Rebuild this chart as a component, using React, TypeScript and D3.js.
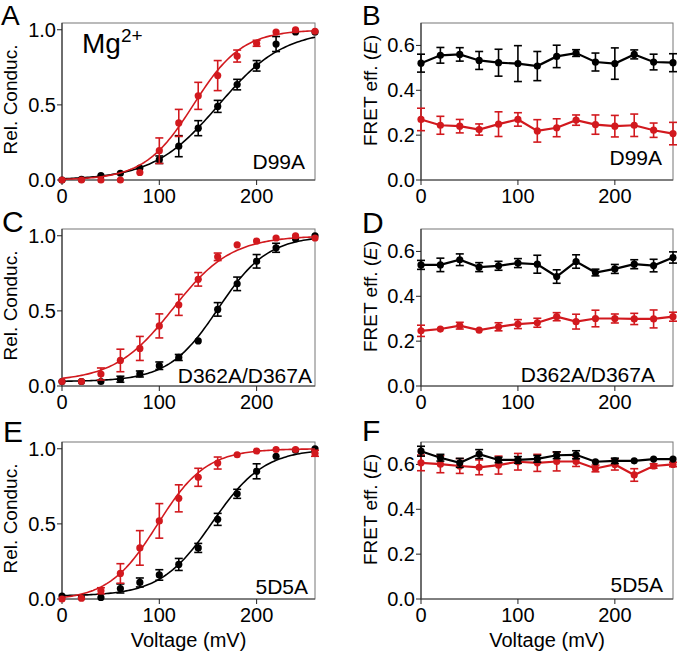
import React, { useRef, useEffect } from "react";
import * as d3 from "d3";

// voltages (mV) shared by every panel
const voltages = [0, 20, 40, 60, 80, 100, 120, 140, 160, 180, 200, 220, 240, 260];

// --- Rel. conductance ---
const condD99ABlack = [0.0, 0.005, 0.03, 0.045, 0.08, 0.135, 0.225, 0.345, 0.49, 0.635, 0.76, 0.905, 0.985, 0.985];
const condD99ABlackErr = [0, 0, 0, 0, 0, 0.025, 0.07, 0.05, 0.04, 0.035, 0.035, 0.05, 0, 0];
const condD99ARed = [0.0, 0.0, 0.0, 0.0, 0.05, 0.195, 0.38, 0.56, 0.695, 0.825, 0.91, 0.985, 1.0, 0.99];
const condD99ARedErr = [0, 0, 0, 0, 0, 0.085, 0.09, 0.09, 0.1, 0.04, 0.02, 0, 0, 0];

const condDDBlack = [0.03, 0.03, 0.03, 0.045, 0.08, 0.135, 0.19, 0.3, 0.51, 0.68, 0.83, 0.92, 0.98, 1.0];
const condDDBlackErr = [0, 0, 0, 0.02, 0.02, 0.025, 0.02, 0, 0.045, 0.045, 0.045, 0.03, 0, 0];
const condDDRed = [0.03, 0.03, 0.08, 0.17, 0.25, 0.4, 0.54, 0.71, 0.86, 0.94, 0.965, 0.985, 1.0, 0.985];
const condDDRedErr = [0, 0, 0.04, 0.075, 0.08, 0.08, 0.07, 0.045, 0.025, 0, 0, 0, 0, 0];

const cond5D5ABlack = [0.02, 0.01, 0.01, 0.07, 0.11, 0.16, 0.23, 0.34, 0.53, 0.7, 0.85, 0.95, 0.99, 1.0];
const cond5D5ABlackErr = [0, 0, 0, 0.03, 0.03, 0.035, 0.04, 0.03, 0.04, 0.03, 0.05, 0, 0, 0];
const cond5D5ARed = [0.0, 0.005, 0.055, 0.17, 0.34, 0.52, 0.67, 0.81, 0.905, 0.96, 0.985, 0.995, 0.995, 0.97];
const cond5D5ARedErr = [0, 0, 0.02, 0.065, 0.115, 0.115, 0.09, 0.06, 0.04, 0, 0, 0, 0, 0.02];

// Boltzmann fits: half-activation (mV), slope (mV), baseline
const fitD99ABlack = { half: 161, slope: 33.5, base: 0 };
const fitD99ARed = { half: 135, slope: 25, base: 0 };
const fitDDBlack = { half: 160.5, slope: 25.5, base: 0.03 };
const fitDDRed = { half: 114, slope: 30, base: 0.03 };
const fit5D5ABlack = { half: 154.5, slope: 26.6, base: 0.02 };
const fit5D5ARed = { half: 98, slope: 25, base: -0.01 };

// --- FRET efficiency ---
const fretD99ABlack = [0.521, 0.556, 0.56, 0.533, 0.523, 0.519, 0.508, 0.551, 0.566, 0.526, 0.519, 0.56, 0.526, 0.523];
const fretD99ABlackErr = [0.04, 0.035, 0.03, 0.04, 0.06, 0.08, 0.065, 0.05, 0.015, 0.04, 0.07, 0.02, 0.035, 0.04];
const fretD99ARed = [0.27, 0.244, 0.24, 0.225, 0.249, 0.27, 0.219, 0.233, 0.267, 0.247, 0.24, 0.244, 0.222, 0.207];
const fretD99ARedErr = [0.05, 0.04, 0.03, 0.025, 0.055, 0.03, 0.05, 0.04, 0.023, 0.043, 0.048, 0.05, 0.032, 0.05];

const fretDDBlack = [0.54, 0.54, 0.563, 0.53, 0.536, 0.548, 0.543, 0.488, 0.555, 0.506, 0.522, 0.543, 0.537, 0.573];
const fretDDBlackErr = [0.02, 0.03, 0.026, 0.02, 0.02, 0.02, 0.04, 0.03, 0.03, 0.015, 0.02, 0.02, 0.028, 0.025];
const fretDDRed = [0.246, 0.254, 0.269, 0.249, 0.264, 0.276, 0.282, 0.309, 0.287, 0.301, 0.301, 0.299, 0.299, 0.309];
const fretDDRedErr = [0.025, 0, 0.015, 0, 0.018, 0.02, 0.02, 0.018, 0.033, 0.037, 0.02, 0.025, 0.04, 0.02];

const fret5D5ABlack = [0.659, 0.63, 0.607, 0.646, 0.62, 0.62, 0.625, 0.641, 0.643, 0.612, 0.616, 0.616, 0.624, 0.624];
const fret5D5ABlackErr = [0.022, 0.015, 0.02, 0.02, 0.012, 0.015, 0.015, 0.015, 0.018, 0, 0.012, 0, 0, 0];
const fret5D5ARed = [0.607, 0.601, 0.593, 0.587, 0.597, 0.612, 0.607, 0.613, 0.613, 0.582, 0.6, 0.553, 0.593, 0.6];
const fret5D5ARedErr = [0.035, 0.038, 0.033, 0.033, 0.04, 0.037, 0.038, 0.042, 0.022, 0.015, 0.025, 0.028, 0.01, 0.01];

const xTicks = [0, 100, 200];
const condTicks = [0, 0.5, 1.0];
const fretTicks = [0, 0.2, 0.4, 0.6];

const RED = "#d2191e";
const BLACK = "#000";
const FONT = "'Liberation Sans', Arial, Helvetica, sans-serif";

const cols = [
  [62, 315],
  [421, 673],
];
const rowTops = [23, 229, 442];
const plotH = 157;

const panels = [
  { letter: "A", col: 0, row: 0, kind: "cond", black: condD99ABlack, blackErr: condD99ABlackErr, red: condD99ARed, redErr: condD99ARedErr, fitB: fitD99ABlack, fitR: fitD99ARed, name: "D99A", ldx: -10, ldy: -11 },
  { letter: "B", col: 1, row: 0, kind: "fret", black: fretD99ABlack, blackErr: fretD99ABlackErr, red: fretD99ARed, redErr: fretD99ARedErr, name: "D99A", ldx: -11, ldy: -15 },
  { letter: "C", col: 0, row: 1, kind: "cond", black: condDDBlack, blackErr: condDDBlackErr, red: condDDRed, redErr: condDDRedErr, fitB: fitDDBlack, fitR: fitDDRed, name: "D362A/D367A", ldx: -3, ldy: -3 },
  { letter: "D", col: 1, row: 1, kind: "fret", black: fretDDBlack, blackErr: fretDDBlackErr, red: fretDDRed, redErr: fretDDRedErr, name: "D362A/D367A", ldx: -18, ldy: -4 },
  { letter: "E", col: 0, row: 2, kind: "cond", black: cond5D5ABlack, blackErr: cond5D5ABlackErr, red: cond5D5ARed, redErr: cond5D5ARedErr, fitB: fit5D5ABlack, fitR: fit5D5ARed, name: "5D5A", ldx: -7, ldy: -5 },
  { letter: "F", col: 1, row: 2, kind: "fret", black: fret5D5ABlack, blackErr: fret5D5ABlackErr, red: fret5D5ARed, redErr: fret5D5ARedErr, name: "5D5A", ldx: -10, ldy: -7 },
];

const letterPos = [
  [1, 25],
  [362, 25],
  [2, 232],
  [362, 233],
  [3, 442],
  [362, 441],
];

const boltz = (f, v) => f.base + (1 - f.base) / (1 + Math.exp((f.half - v) / f.slope));

function App() {
  const svgRef = useRef(null);

  useEffect(() => {
    const svg = d3.select(svgRef.current);
    svg.selectAll("*").remove();

    panels.forEach((p, i) => {
      const [x0, x1] = cols[p.col];
      const top = rowTops[p.row];
      const bottom = top + plotH;
      const isCond = p.kind === "cond";

      const x = d3.scaleLinear().domain([0, 260]).range([x0, x1]);
      const y = d3
        .scaleLinear()
        .domain(isCond ? [0, 1.045] : [0, 0.7])
        .range([bottom, top]);

      const g = svg.append("g");

      // frame
      g.append("rect")
        .attr("x", x0).attr("y", top)
        .attr("width", x1 - x0).attr("height", plotH)
        .attr("fill", "none").attr("stroke", "#777").attr("stroke-width", 1);
      g.append("line").attr("x1", x0).attr("x2", x0).attr("y1", top).attr("y2", bottom).attr("stroke", "#222");
      g.append("line").attr("x1", x0).attr("x2", x1).attr("y1", bottom).attr("y2", bottom).attr("stroke", "#444");

      // y ticks
      const yt = isCond ? condTicks : fretTicks;
      g.selectAll(".yt").data(yt).join("line")
        .attr("x1", x0 - 5).attr("x2", x0)
        .attr("y1", (d) => y(d)).attr("y2", (d) => y(d))
        .attr("stroke", "#222");
      g.selectAll(".ytl").data(yt).join("text")
        .attr("x", x0 - 6).attr("y", (d) => y(d) + 7)
        .attr("text-anchor", "end")
        .attr("font-size", 20).attr("font-family", FONT)
        .text((d) => d.toFixed(1));

      // x ticks
      g.selectAll(".xt").data(xTicks).join("line")
        .attr("x1", (d) => x(d)).attr("x2", (d) => x(d))
        .attr("y1", bottom).attr("y2", bottom + 5)
        .attr("stroke", "#222");
      g.selectAll(".xtl").data(xTicks).join("text")
        .attr("x", (d) => x(d)).attr("y", bottom + 23)
        .attr("text-anchor", "middle")
        .attr("font-size", 20).attr("font-family", FONT)
        .text((d) => d);

      // y axis title
      const tx = isCond ? 17 : 377;
      const ty = isCond ? (top + bottom) / 2 - 2 : (top + bottom) / 2 - 11;
      const title = g.append("text")
        .attr("transform", `translate(${tx},${ty}) rotate(-90)`)
        .attr("text-anchor", "middle")
        .attr("font-size", 19).attr("font-family", FONT);
      if (isCond) {
        title.text("Rel. Conduc.");
      } else {
        title.append("tspan").text("FRET eff. (");
        title.append("tspan").attr("font-style", "italic").text("E");
        title.append("tspan").text(")");
      }

      if (p.row === 2) {
        g.append("text")
          .attr("x", (x0 + x1) / 2).attr("y", 647)
          .attr("text-anchor", "middle")
          .attr("font-size", 20).attr("font-family", FONT)
          .text("Voltage (mV)");
      }

      // series
      const series = [
        { vals: p.black, err: p.blackErr, color: BLACK, fit: p.fitB },
        { vals: p.red, err: p.redErr, color: RED, fit: p.fitR },
      ];
      const order = isCond ? series : [series[1], series[0]];

      order.forEach((s) => {
        const pts = voltages.map((v, j) => ({ v, val: s.vals[j], e: s.err[j] }));
        if (isCond) {
          const curve = d3.range(0, 260.5, 2).map((v) => [v, boltz(s.fit, v)]);
          g.append("path")
            .attr("d", d3.line().x((d) => x(d[0])).y((d) => y(d[1]))(curve))
            .attr("fill", "none").attr("stroke", s.color).attr("stroke-width", 1.6);
        } else {
          g.append("path")
            .attr("d", d3.line().x((d) => x(d.v)).y((d) => y(d.val))(pts))
            .attr("fill", "none").attr("stroke", s.color).attr("stroke-width", 2.2);
        }
        const eb = pts.filter((d) => d.e > 0);
        g.selectAll(null).data(eb).join("line")
          .attr("x1", (d) => x(d.v)).attr("x2", (d) => x(d.v))
          .attr("y1", (d) => y(d.val - d.e)).attr("y2", (d) => y(d.val + d.e))
          .attr("stroke", s.color).attr("stroke-width", 1.6);
        [-1, 1].forEach((sign) => {
          g.selectAll(null).data(eb).join("line")
            .attr("x1", (d) => x(d.v) - 4).attr("x2", (d) => x(d.v) + 4)
            .attr("y1", (d) => y(d.val + sign * d.e)).attr("y2", (d) => y(d.val + sign * d.e))
            .attr("stroke", s.color).attr("stroke-width", 1.6);
        });
        g.selectAll(null).data(pts).join("circle")
          .attr("cx", (d) => x(d.v)).attr("cy", (d) => y(d.val))
          .attr("r", 3.6).attr("fill", s.color);
      });

      // inner label
      g.append("text")
        .attr("x", x1 + p.ldx).attr("y", bottom + p.ldy)
        .attr("text-anchor", "end")
        .attr("font-size", 21).attr("font-family", FONT)
        .text(p.name);

      // panel letter
      g.append("text")
        .attr("x", letterPos[i][0]).attr("y", letterPos[i][1])
        .attr("font-size", i < 2 ? 28 : 30).attr("font-family", FONT)
        .text(p.letter);

      if (p.letter === "A") {
        const mg = g.append("text")
          .attr("x", 82).attr("y", 53)
          .attr("font-size", 28).attr("font-family", FONT);
        mg.append("tspan").text("Mg");
        mg.append("tspan").attr("font-size", 19).attr("dy", -11).text("2+");
      }
    });
  }, []);

  return (
    <svg
      ref={svgRef}
      width={680}
      height={656}
      style={{ position: "absolute", left: 0, top: 0, background: "#fff" }}
    ></svg>
  );
}

export default App;
